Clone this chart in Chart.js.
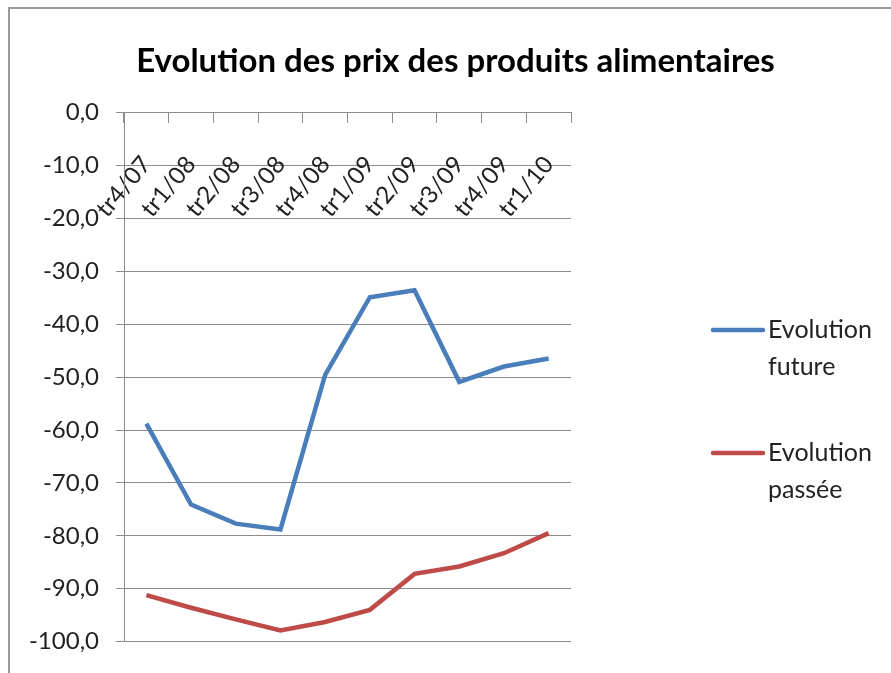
<!DOCTYPE html>
<html>
<head>
<meta charset="utf-8">
<script src="https://cdn.jsdelivr.net/npm/chart.js@4/dist/chart.umd.min.js"></script>
<style>
  html, body { margin: 0; padding: 0; background: #fff; }
  #wrap { position: relative; width: 891px; height: 673px; }
  #frame { position: absolute; left: 8px; top: 7px; width: 900px; height: 700px;
    border-top: 2px solid #9a9a9a; border-left: 2px solid #9a9a9a; }
  canvas { position: absolute; left: 0; top: 0; }
</style>
</head>
<body>
<div id="wrap">
  <div id="frame"></div>
  <canvas id="c" width="891" height="673"></canvas>
</div>
<script>
const quarters = ['tr4/07', 'tr1/08', 'tr2/08', 'tr3/08', 'tr4/08', 'tr1/09', 'tr2/09', 'tr3/09', 'tr4/09', 'tr1/10']
const future = [-58.8, -74.1, -77.7, -78.8, -49.6, -34.9, -33.6, -50.9, -48.0, -46.5]
const passee = [-91.2, -93.6, -95.8, -97.9, -96.3, -94.0, -87.2, -85.8, -83.3, -79.5]
const seriesNames = [['Evolution', 'future'], ['Evolution', 'passée']]
const seriesColors = ['#4a7ebb', '#be4b48']

const font = "'Liberation Sans Narrow', 'Lato', sans-serif"
const gridColor = '#8c8c8c'

// legende dessinee a droite, comme dans Excel
const sideLegend = {
  id: 'sideLegend',
  afterDraw(chart) {
    const ctx = chart.ctx
    const x = chart.chartArea.right + 142
    ctx.save()
    chart.data.datasets.forEach((ds, i) => {
      const y = 330 + i * 123
      ctx.strokeStyle = ds.borderColor
      ctx.lineWidth = 4.5
      ctx.lineCap = 'round'
      ctx.beginPath()
      ctx.moveTo(x, y)
      ctx.lineTo(x + 50, y)
      ctx.stroke()
      ctx.fillStyle = '#222'
      ctx.font = '25px ' + font
      ctx.textBaseline = 'middle'
      seriesNames[i].forEach((t, j) => ctx.fillText(t, x + 55, y + j * 37))
    })
    ctx.restore()
  }
}

new Chart(document.getElementById('c'), {
  type: 'line',
  data: {
    labels: quarters,
    datasets: [future, passee].map((d, i) => ({
      label: seriesNames[i].join(' '),
      data: d,
      borderColor: seriesColors[i],
      backgroundColor: seriesColors[i],
      borderWidth: 4.5,
      pointRadius: 0,
      tension: 0,
      fill: false
    }))
  },
  options: {
    responsive: false,
    animation: false,
    layout: { padding: { top: 0, left: 20, right: 0, bottom: 26 } },
    plugins: {
      legend: { display: false },
      tooltip: { enabled: false },
      title: {
        display: true,
        text: 'Evolution des prix des produits alimentaires',
        color: '#000',
        font: { family: font, size: 33, weight: 'bold' },
        padding: { top: 42, bottom: 31 }
      }
    },
    scales: {
      x: {
        position: { y: 0 },
        offset: true,
        grid: { offset: true, drawOnChartArea: false, color: gridColor, tickLength: 10 },
        border: { display: true, color: gridColor },
        ticks: {
          autoSkip: false,
          minRotation: 50,
          maxRotation: 50,
          padding: 28,
          color: '#222',
          font: { family: font, size: 24 }
        }
      },
      y: {
        min: -100,
        max: 0,
        afterFit: s => { s.width = 104 },
        grid: { color: gridColor, tickLength: 8 },
        border: { display: true, color: gridColor },
        ticks: {
          stepSize: 10,
          padding: 17,
          color: '#222',
          font: { family: font, size: 24 },
          callback: v => v.toFixed(1).replace('.', ',')
        }
      },
      side: {
        type: 'linear',
        position: 'right',
        grid: { display: false },
        border: { display: false },
        ticks: { display: false },
        afterFit: s => { s.width = 320 }
      }
    }
  },
  plugins: [sideLegend]
})
</script>
</body>
</html>
